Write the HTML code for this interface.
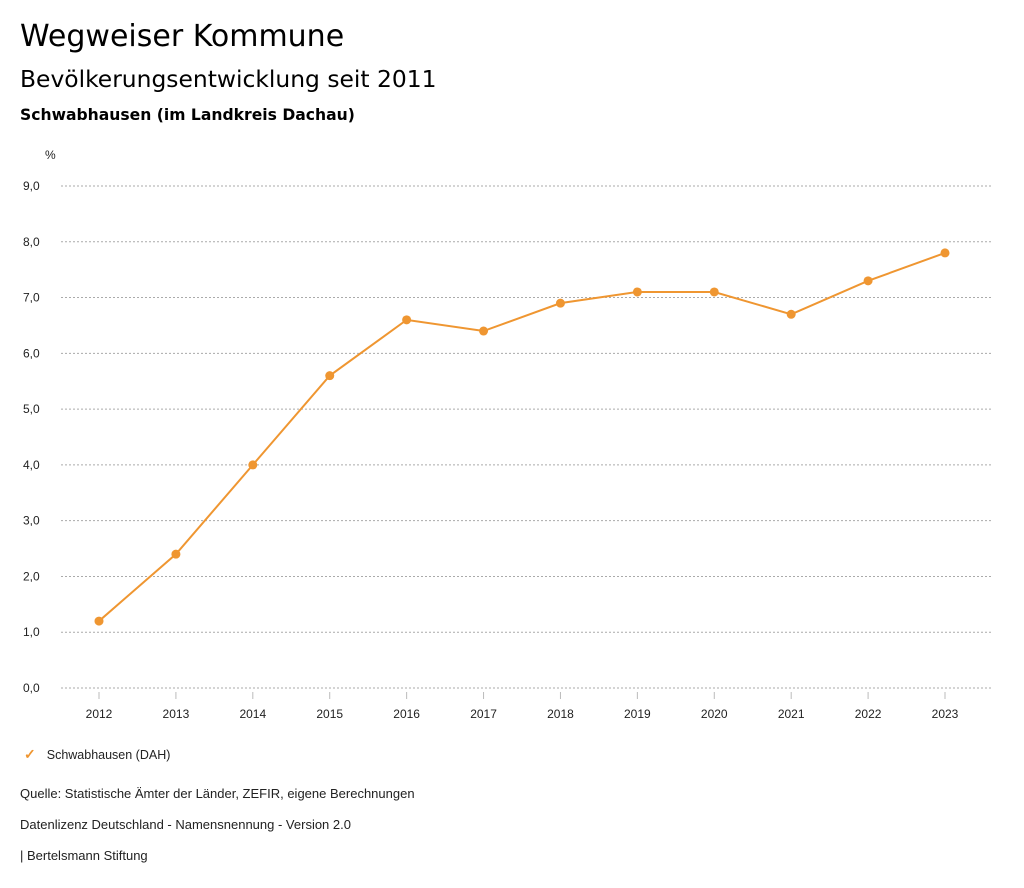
<!DOCTYPE html>
<html><head><meta charset="utf-8"><style>
body{margin:0;width:1024px;height:888px;background:#fff;font-family:"DejaVu Sans",sans-serif;color:#000;position:relative;overflow:hidden}
.t{position:absolute;white-space:nowrap}
.s{font-family:"Liberation Sans",sans-serif;font-size:13px;color:#222}
</style></head><body>
<div class="t" style="left:20px;top:19px;font-size:30px">Wegweiser Kommune</div>
<div class="t" style="left:20px;top:65px;font-size:23.4px">Bevölkerungsentwicklung seit 2011</div>
<div class="t" style="left:20px;top:106px;font-size:15.6px;font-weight:bold">Schwabhausen (im Landkreis Dachau)</div>
<svg id="chart" width="1024" height="888" style="position:absolute;left:0;top:0" font-family="Liberation Sans, sans-serif" font-size="12" fill="#222"></svg>
<div class="t" style="left:24px;top:746px;font-family:'Liberation Sans',sans-serif;font-size:12.5px;color:#222"><span style="color:#ef9631;font-weight:bold;margin-right:11px;font-size:14px">✓</span>Schwabhausen (DAH)</div>
<div class="t s" style="left:20px;top:786px">Quelle: Statistische Ämter der Länder, ZEFIR, eigene Berechnungen</div>
<div class="t s" style="left:20px;top:817px">Datenlizenz Deutschland - Namensnennung - Version 2.0</div>
<div class="t s" style="left:20px;top:848px">| Bertelsmann Stiftung</div>
<script>
const years=[2012,2013,2014,2015,2016,2017,2018,2019,2020,2021,2022,2023];
const values=[1.2,2.4,4.0,5.6,6.6,6.4,6.9,7.1,7.1,6.7,7.3,7.8];
const yTicks=[0,1,2,3,4,5,6,7,8,9];
const yLabels=["0,0","1,0","2,0","3,0","4,0","5,0","6,0","7,0","8,0","9,0"];
const svg=document.getElementById('chart');const NS='http://www.w3.org/2000/svg';
const x=i=>99+i*(945-99)/(years.length-1);
const y=v=>688-v*(688-186)/9;
function mk(t,a){const e=document.createElementNS(NS,t);for(const k in a)e.setAttribute(k,a[k]);svg.appendChild(e);return e;}
let u=mk('text',{x:45,y:159});u.textContent='%';


yTicks.forEach((v,i)=>{
 const l=mk('line',{x1:61,x2:991,y1:y(v),y2:y(v),stroke:'#aaa','stroke-dasharray':'2,2'});
 
 
 const t=mk('text',{x:23,y:y(v)+4});t.textContent=yLabels[i];
 
 
});
years.forEach((yr,i)=>{
 const l=mk('line',{x1:x(i),x2:x(i),y1:692,y2:699,stroke:'#bbb'});
 
 
 const t=mk('text',{x:x(i),y:718,'text-anchor':'middle'});t.textContent=yr;
 
 
});
const p=mk('polyline',{points:values.map((v,i)=>x(i)+','+y(v)).join(' '),fill:'none',stroke:'#ef9631','stroke-width':2});


values.forEach((v,i)=>{
 const c=mk('circle',{cx:x(i),cy:y(v),r:4.5,fill:'#ef9631'});
 
 
});
</script>
</body></html>
